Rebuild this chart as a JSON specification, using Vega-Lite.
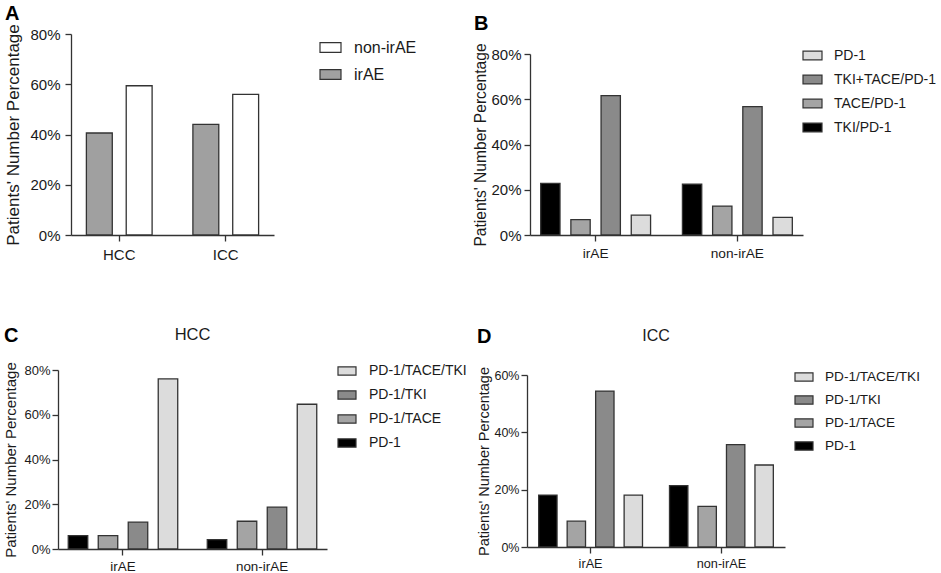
{
  "$schema": "https://vega.github.io/schema/vega-lite/v6.json",
  "padding": {"left": 3, "top": 3, "right": 2, "bottom": 0},
  "datasets": {
    "overall": [
      {"cancer": "HCC", "group": "irAE", "pct": 0.406},
      {"cancer": "HCC", "group": "non-irAE", "pct": 0.594},
      {"cancer": "ICC", "group": "irAE", "pct": 0.44},
      {"cancer": "ICC", "group": "non-irAE", "pct": 0.56}
    ],
    "treatment": [
      {"group": "irAE", "regimen": "TKI/PD-1", "pct": 0.228},
      {"group": "irAE", "regimen": "TACE/PD-1", "pct": 0.068},
      {"group": "irAE", "regimen": "TKI+TACE/PD-1", "pct": 0.616},
      {"group": "irAE", "regimen": "PD-1", "pct": 0.088},
      {"group": "non-irAE", "regimen": "TKI/PD-1", "pct": 0.225},
      {"group": "non-irAE", "regimen": "TACE/PD-1", "pct": 0.128},
      {"group": "non-irAE", "regimen": "TKI+TACE/PD-1", "pct": 0.567},
      {"group": "non-irAE", "regimen": "PD-1", "pct": 0.078}
    ],
    "subgroup": [
      {"cancer": "HCC", "group": "irAE", "regimen": "PD-1", "pct": 0.06},
      {"cancer": "HCC", "group": "irAE", "regimen": "PD-1/TACE", "pct": 0.06},
      {"cancer": "HCC", "group": "irAE", "regimen": "PD-1/TKI", "pct": 0.12},
      {"cancer": "HCC", "group": "irAE", "regimen": "PD-1/TACE/TKI", "pct": 0.76},
      {"cancer": "HCC", "group": "non-irAE", "regimen": "PD-1", "pct": 0.042},
      {"cancer": "HCC", "group": "non-irAE", "regimen": "PD-1/TACE", "pct": 0.124},
      {"cancer": "HCC", "group": "non-irAE", "regimen": "PD-1/TKI", "pct": 0.187},
      {"cancer": "HCC", "group": "non-irAE", "regimen": "PD-1/TACE/TKI", "pct": 0.647},
      {"cancer": "ICC", "group": "irAE", "regimen": "PD-1", "pct": 0.181},
      {"cancer": "ICC", "group": "irAE", "regimen": "PD-1/TACE", "pct": 0.09},
      {"cancer": "ICC", "group": "irAE", "regimen": "PD-1/TKI", "pct": 0.544},
      {"cancer": "ICC", "group": "irAE", "regimen": "PD-1/TACE/TKI", "pct": 0.181},
      {"cancer": "ICC", "group": "non-irAE", "regimen": "PD-1", "pct": 0.214},
      {"cancer": "ICC", "group": "non-irAE", "regimen": "PD-1/TACE", "pct": 0.142},
      {"cancer": "ICC", "group": "non-irAE", "regimen": "PD-1/TKI", "pct": 0.357},
      {"cancer": "ICC", "group": "non-irAE", "regimen": "PD-1/TACE/TKI", "pct": 0.286}
    ]
  },
  "columns": 1,
  "align": "none",
  "spacing": 64,
  "resolve": {
    "scale": {"x": "independent", "y": "independent", "color": "independent", "xOffset": "independent"},
    "legend": {"color": "independent"}
  },
  "concat": [
    {
      "spacing": 56,
      "resolve": {
        "scale": {"x": "independent", "y": "independent", "color": "independent", "xOffset": "independent"},
        "legend": {"color": "independent"}
      },
      "hconcat": [
        {
          "title": {"text": "A", "offset": 0},
          "data": {"name": "overall"},
          "width": 216,
          "height": 201,
          "mark": {"type": "bar", "stroke": "#333333", "strokeWidth": 1.3},
          "encoding": {
            "x": {
              "field": "cancer", "type": "nominal", "title": null,
              "scale": {"range": [13, 216], "paddingInner": 0.252, "paddingOuter": 0.079},
              "axis": {"labelFontSize": 15, "labelPadding": 6}
            },
            "xOffset": {
              "field": "group", "sort": ["irAE", "non-irAE"],
              "scale": {"paddingInner": 0.35, "paddingOuter": 0.175}
            },
            "y": {
              "field": "pct", "type": "quantitative",
              "title": "Patients' Number Percentage",
              "scale": {"domain": [0, 0.8]},
              "axis": {"offset": -13, "values": [0, 0.2, 0.4, 0.6, 0.8], "format": ".0%", "labelFontSize": 15, "titleFontSize": 17, "titlePadding": 7, "labelPadding": 5}
            },
            "color": {
              "field": "group", "type": "nominal",
              "scale": {"domain": ["non-irAE", "irAE"], "range": ["#ffffff", "#a0a0a0"]},
              "legend": {"title": null, "orient": "none", "legendX": 261, "legendY": 2, "labelFontSize": 16, "symbolSize": 441, "rowPadding": 7, "labelOffset": 12}
            }
          }
        },
        {
          "title": {"text": "B", "offset": 0},
          "data": {"name": "treatment"},
          "width": 273,
          "height": 201,
          "mark": {"type": "bar", "stroke": "#333333", "strokeWidth": 1.3},
          "encoding": {
            "x": {
              "field": "group", "type": "nominal", "title": null,
              "scale": {"paddingInner": 0.148, "paddingOuter": 0.037},
              "axis": {"labelFontSize": 13.7, "labelPadding": 5}
            },
            "xOffset": {
              "field": "regimen", "sort": ["TKI/PD-1", "TACE/PD-1", "TKI+TACE/PD-1", "PD-1"],
              "scale": {"paddingInner": 0.36, "paddingOuter": 0.18}
            },
            "y": {
              "field": "pct", "type": "quantitative",
              "title": "Patients' Number Percentage",
              "scale": {"domain": [0, 0.8], "range": [201, 20]},
              "axis": {"values": [0, 0.2, 0.4, 0.6, 0.8], "format": ".0%", "labelFontSize": 15, "titleFontSize": 15.6, "titlePadding": 2}
            },
            "color": {
              "field": "regimen", "type": "nominal",
              "scale": {
                "domain": ["PD-1", "TKI+TACE/PD-1", "TACE/PD-1", "TKI/PD-1"],
                "range": ["#dcdcdc", "#8a8a8a", "#a4a4a4", "#000000"]
              },
              "legend": {"title": null, "orient": "none", "legendX": 272, "legendY": 11, "labelFontSize": 14, "symbolSize": 361, "rowPadding": 6, "labelOffset": 11}
            }
          }
        }
      ]
    },
    {
      "spacing": 9,
      "resolve": {
        "scale": {"x": "independent", "y": "independent", "color": "independent", "xOffset": "independent"},
        "legend": {"color": "independent"}
      },
      "hconcat": [
        {
          "title": {"text": "C", "offset": -19},
          "vconcat": [
            {
              "title": {"text": "HCC", "anchor": "middle", "frame": "group", "fontSize": 16.5, "fontWeight": "normal", "color": "#1a1a1a", "offset": 18},
              "data": {"name": "subgroup"},
              "transform": [{"filter": "datum.cancer === 'HCC'"}],
              "width": 269,
              "height": 179,
              "mark": {"type": "bar", "stroke": "#333333", "strokeWidth": 1.3},
              "encoding": {
                "x": {
                  "field": "group", "type": "nominal", "title": null,
                  "scale": {"paddingInner": 0.137, "paddingOuter": 0.036},
                  "axis": {"labelFontSize": 13.4, "labelPadding": 4}
                },
                "xOffset": {
                  "field": "regimen", "sort": ["PD-1", "PD-1/TACE", "PD-1/TKI", "PD-1/TACE/TKI"],
                  "scale": {"paddingInner": 0.35, "paddingOuter": 0.175}
                },
                "y": {
                  "field": "pct", "type": "quantitative",
                  "title": "Patients' Number Percentage",
                  "scale": {"domain": [0, 0.8]},
                  "axis": {"values": [0, 0.2, 0.4, 0.6, 0.8], "format": ".0%", "labelFontSize": 13, "titleFontSize": 15, "titlePadding": 5, "labelPadding": 2}
                },
                "color": {
                  "field": "regimen", "type": "nominal",
                  "scale": {
                    "domain": ["PD-1/TACE/TKI", "PD-1/TKI", "PD-1/TACE", "PD-1"],
                    "range": ["#dcdcdc", "#8a8a8a", "#a4a4a4", "#000000"]
                  },
                  "legend": {"title": null, "orient": "none", "legendX": 279, "legendY": -9, "labelFontSize": 14, "symbolSize": 324, "rowPadding": 7, "labelOffset": 12}
                }
              }
            }
          ]
        },
        {
          "title": {"text": "D", "offset": -19},
          "vconcat": [
            {
              "title": {"text": "ICC", "anchor": "middle", "frame": "group", "fontSize": 16, "fontWeight": "normal", "color": "#1a1a1a", "offset": 23},
              "data": {"name": "subgroup"},
              "transform": [{"filter": "datum.cancer === 'ICC'"}],
              "width": 258,
              "height": 177,
              "mark": {"type": "bar", "stroke": "#333333", "strokeWidth": 1.3},
              "encoding": {
                "x": {
                  "field": "group", "type": "nominal", "title": null,
                  "scale": {"paddingInner": 0.128, "paddingOuter": 0.05},
                  "axis": {"labelFontSize": 12.7, "labelPadding": 4}
                },
                "xOffset": {
                  "field": "regimen", "sort": ["PD-1", "PD-1/TACE", "PD-1/TKI", "PD-1/TACE/TKI"],
                  "scale": {"paddingInner": 0.355, "paddingOuter": 0.18}
                },
                "y": {
                  "field": "pct", "type": "quantitative",
                  "title": "Patients' Number Percentage",
                  "scale": {"domain": [0, 0.6], "range": [177, 5]},
                  "axis": {"values": [0, 0.2, 0.4, 0.6], "format": ".0%", "labelFontSize": 12.5, "titleFontSize": 14.5, "titlePadding": 2, "labelPadding": 2}
                },
                "color": {
                  "field": "regimen", "type": "nominal",
                  "scale": {
                    "domain": ["PD-1/TACE/TKI", "PD-1/TKI", "PD-1/TACE", "PD-1"],
                    "range": ["#dcdcdc", "#8a8a8a", "#a4a4a4", "#000000"]
                  },
                  "legend": {"title": null, "orient": "none", "legendX": 267, "legendY": -3, "labelFontSize": 13.6, "symbolSize": 324, "rowPadding": 6, "labelOffset": 11}
                }
              }
            }
          ]
        }
      ]
    }
  ],
  "config": {
    "font": "Liberation Sans",
    "view": {"stroke": null},
    "axis": {
      "grid": false,
      "domainColor": "#333333", "domainWidth": 1.3,
      "tickColor": "#333333", "tickWidth": 1.3, "tickSize": 6,
      "labelColor": "#1a1a1a", "titleColor": "#1a1a1a",
      "titleFontWeight": "normal", "labelPadding": 3
    },
    "axisX": {"labelAngle": 0, "labelPadding": 4},
    "legend": {
      "labelColor": "#1a1a1a",
      "symbolType": "M-1,-0.46H1V0.46H-1Z",
      "symbolStrokeColor": "#333333", "symbolStrokeWidth": 1.2
    },
    "title": {"anchor": "start", "frame": "bounds", "fontSize": 20, "fontWeight": "bold", "color": "#000000"}
  }
}
